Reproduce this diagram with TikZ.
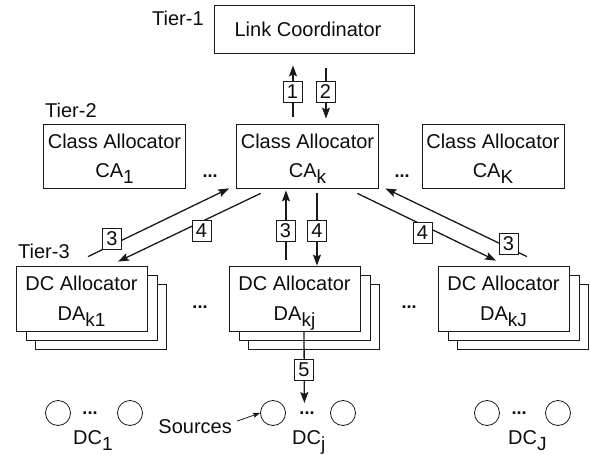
\documentclass[tikz,border=0pt]{standalone}
\usepackage{fontspec}
\setmainfont{Liberation Sans}
\usetikzlibrary{arrows.meta,calc}
\newcommand\lowsub[1]{\raisebox{-0.3em}[0pt][0pt]{\fontsize{19}{19}\selectfont #1}}
\begin{document}
\begin{tikzpicture}[x=1pt,y=-1pt,
  font=\fontsize{20}{29}\selectfont,
  every node/.style={text=black!95},
  box/.style={draw=black!90, line width=0.8pt, fill=white, inner sep=0pt, align=center},
  lcbox/.style={box, minimum width=200pt, minimum height=48pt},
  cabox/.style={box, minimum width=142pt, minimum height=64pt},
  dabox/.style={box, minimum width=131pt, minimum height=65pt, font=\fontsize{20}{30}\selectfont},
  lbl/.style={draw=black!90, line width=0.7pt, fill=white, inner sep=0pt, minimum width=19pt, minimum height=21pt, font=\fontsize{20}{20}\selectfont},
  arr/.style={draw=black!90, line width=1.3pt, -{Stealth[length=11pt,width=8pt,inset=2pt]}},
  srcarr/.style={draw=black!90, line width=0.8pt, -{Stealth[length=7pt,width=5pt,inset=1pt]}},
  src/.style={draw=black!90, circle, minimum size=25pt, inner sep=0pt, line width=0.8pt},
  dotsn/.style={inner sep=0pt, font=\fontsize{18}{18}\selectfont\bfseries},
  tier/.style={inner sep=0pt, anchor=base west}
]
\useasboundingbox (0,0) rectangle (590,455);

% Tier 1
\node[lcbox] (LC) at (314,29) {Link Coordinator\hspace*{12pt}};
\node[tier] (T1) at (152,25) {Tier-1};

% Tier 2
\node[tier] (T2) at (45,117) {Tier-2};
\node[cabox] (CA1) at (114.5,156) {Class Allocator\\CA\lowsub{1}};
\node[cabox] (CAk) at (307.5,156) {Class Allocator\\CA\lowsub{k}};
\node[cabox] (CAK) at (493,156) {Class Allocator\\CA\lowsub{K}};
\node[dotsn] (d1) at (210,176) {...};
\node[dotsn] (d2) at (402,176) {...};

% Tier 3
\node[tier] (T3) at (18,258) {Tier-3};
\node[dabox] (DA1c) at (100.5,316.5) {};
\node[dabox] (DA1b) at (91.5,307.5) {};
\node[dabox] (DA1) at (81.5,298.5) {DC Allocator\\DA\lowsub{k1}};
\node[dabox] (DAjc) at (313.5,316.5) {};
\node[dabox] (DAjb) at (304.5,307.5) {};
\node[dabox] (DAj) at (294.5,298.5) {DC Allocator\\DA\lowsub{kj}};
\node[dabox] (DAJc) at (522.5,316.5) {};
\node[dabox] (DAJb) at (513.5,307.5) {};
\node[dabox] (DAJ) at (503.5,298.5) {DC Allocator\\DA\lowsub{kJ}};
\node[dotsn] (d3) at (200,307) {...};
\node[dotsn] (d4) at (409,307) {...};

% Sources
\node[src] (c11) at (58,413) {};
\node[src] (c12) at (130,413) {};
\node[src] (cj1) at (273,413) {};
\node[src] (cj2) at (343,413) {};
\node[src] (cJ1) at (487,413) {};
\node[src] (cJ2) at (558,413) {};
\node[dotsn] (d5) at (90,413) {...};
\node[dotsn] (d6) at (307,413) {...};
\node[dotsn] (d7) at (519,413) {...};
\node[tier] (DC1) at (73,444) {DC\lowsub{1}};
\node[tier] (DCj) at (292,444) {DC\lowsub{j}};
\node[tier] (DCJ) at (508,444) {DC\lowsub{J}};
\node[inner sep=0pt, anchor=base east] (Sources) at (232,433) {Sources};
\draw[srcarr] ($(Sources.east)+(5,-5)$) -- (cj1.west);

% Arrows
\draw[arr] ($(CAk.north)+(-14.5,-7)$) -- ($(LC.south)+(-21,12)$);
\draw[arr] ($(LC.south)+(12,15)$) -- ($(CAk.north)+(18.5,-5)$);
\draw[arr] ($(DA1.north)+(6.5,-9)$) -- ($(CAk.south west)+(-7,0)$);
\draw[arr] ($(CAk.south west)+(24.5,5)$) -- ($(DA1.north)+(36.5,-4)$);
\draw[arr] ($(DAj.north)+(-8.5,-6)$) -- ($(CAk.south)+(-21.5,2)$);
\draw[arr] ($(CAk.south)+(9.5,5)$) -- ($(DAj.north)+(22.5,0)$);
\draw[arr] ($(CAk.south east)+(-21.5,5)$) -- ($(DAJ.north)+(-7.5,-5)$);
\draw[arr] ($(DAJ.north)+(23.5,-9)$) -- ($(CAk.south east)+(6.5,0)$);
\draw[arr] ($(DAj.south)+(9.5,0)$) -- ($(cj1.east)+(18.5,-10)$);

% Labels
\node[lbl] (L1) at (292.5,92) {1};
\node[lbl] (L2) at (325.5,92) {2};
\node[lbl] (L3a) at (112,239) {3};
\node[lbl] (L4a) at (201.5,231) {4};
\node[lbl] (L3b) at (285.5,231) {3};
\node[lbl] (L4b) at (317,231) {4};
\node[lbl] (L4c) at (422.5,233) {4};
\node[lbl] (L3c) at (508.5,244) {3};
\node[lbl] (L5) at (304,370) {5};
\end{tikzpicture}
\end{document}
